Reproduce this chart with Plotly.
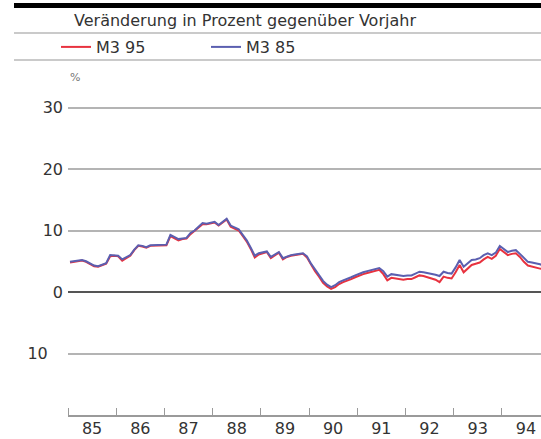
import plotly.graph_objects as go

# ---- data (monthly, Jan 1985 - Dec 1994), % change vs previous year ----
years = [1985, 1986, 1987, 1988, 1989, 1990, 1991, 1992, 1993, 1994]
year_labels = ["85", "86", "87", "88", "89", "90", "91", "92", "93", "94"]

m3_85 = [
    4.9, 5.0, 5.1, 5.2, 5.0, 4.6, 4.3, 4.2, 4.4, 4.7, 6.0, 6.0,
    5.9, 5.3, 5.6, 6.0, 6.9, 7.6, 7.5, 7.3, 7.6, 7.6, 7.7, 7.6,
    7.7, 9.3, 8.9, 8.6, 8.7, 8.8, 9.6, 10.0, 10.6, 11.2, 11.1, 11.3,
    11.4, 10.9, 11.4, 11.9, 10.8, 10.5, 10.2, 9.3, 8.4, 7.2, 5.9, 6.3,
    6.5, 6.6, 5.7, 6.1, 6.5, 5.5, 5.8, 6.0, 6.1, 6.2, 6.3, 5.8,
    4.6, 3.7, 2.8, 1.8, 1.2, 0.8, 1.1, 1.6, 1.9, 2.1, 2.4, 2.7,
    3.0, 3.2, 3.4, 3.6, 3.8, 3.9, 3.4, 2.5, 2.9, 2.8, 2.8, 2.6,
    2.7, 2.7, 3.0, 3.3, 3.2, 3.1, 2.9, 2.8, 2.6, 3.3, 3.1, 3.0,
    4.0, 5.2, 4.1, 4.6, 5.2, 5.3, 5.5, 6.0, 6.3, 6.0, 6.4, 7.5,
    7.0, 6.5, 6.7, 6.8, 6.2, 5.5, 4.9, 4.8, 4.7, 4.5, 4.3, 4.2,
]

m3_95 = [
    4.8, 4.9, 5.0, 5.1, 4.9, 4.5, 4.2, 4.1, 4.3, 4.6, 5.8, 5.9,
    5.8, 5.1, 5.5, 5.9, 6.8, 7.5, 7.4, 7.2, 7.5, 7.5, 7.6, 7.5,
    7.6, 9.1, 8.7, 8.4, 8.6, 8.7, 9.4, 9.9, 10.5, 11.0, 11.0, 11.2,
    11.3, 10.8, 11.3, 11.8, 10.6, 10.3, 10.0, 9.1, 8.2, 7.0, 5.6, 6.1,
    6.3, 6.5, 5.5, 6.0, 6.4, 5.3, 5.7, 5.9, 6.0, 6.1, 6.2, 5.6,
    4.4, 3.4, 2.5, 1.5, 0.9, 0.5, 0.8, 1.3, 1.6, 1.8, 2.1, 2.4,
    2.7, 2.9, 3.1, 3.3, 3.5, 3.6, 2.9, 1.9, 2.3, 2.2, 2.2, 2.0,
    2.1, 2.1, 2.4, 2.7, 2.6, 2.4, 2.2, 2.0, 1.6, 2.5, 2.3, 2.2,
    3.2, 4.4, 3.2, 3.8, 4.4, 4.6, 4.8, 5.3, 5.7, 5.4, 5.9, 7.0,
    6.5, 6.0, 6.2, 6.3, 5.7, 4.9, 4.3, 4.1, 4.0, 3.8, 3.7, 3.6,
]

y_ticks = [-10, 0, 10, 20, 30]
y_tick_labels = ["10\u00a0\u00a0\u00a0", "0", "10", "20", "30"]

x_vals = [years[0] + i / 12 + 1 / 24 for i in range(len(m3_85))]
x_label_pos = [y + 0.5 for y in years]

# ---- geometry helpers (pixel -> paper) ----
W, H = 541, 439
L, R, T, B = 68, 0, 92, 24
PW, PH = W - L - R, H - T - B


def px(x):
    return (x - L) / PW


def py(y):
    return (H - B - y) / PH


FONT = "DejaVu Sans"
TXT = "#333333"

fig = go.Figure()
fig.add_trace(go.Scatter(x=x_vals, y=m3_95, mode="lines", name="M3 95",
                         line=dict(color="#e8323f", width=2)))
fig.add_trace(go.Scatter(x=x_vals, y=m3_85, mode="lines", name="M3 85",
                         line=dict(color="#5b5fb0", width=2)))

fig.update_layout(
    width=W, height=H,
    margin=dict(l=L, r=R, t=T, b=B, autoexpand=False),
    paper_bgcolor="white", plot_bgcolor="white",
    font=dict(family=FONT, size=16, color=TXT),
    showlegend=True,
    legend=dict(orientation="h", x=px(56), y=py(47), xanchor="left", yanchor="middle",
                entrywidth=105, entrywidthmode="pixels",
                font=dict(family=FONT, size=16, color=TXT),
                bgcolor="rgba(0,0,0,0)", itemclick=False),
    xaxis=dict(
        range=[years[0], years[0] + PW / 48.2],
        tickmode="array", tickvals=x_label_pos, ticktext=year_labels,
        ticks="", showgrid=False, zeroline=False,
        showline=True, linecolor="#9a9a9a", linewidth=1.5,
        ticklabelstandoff=-2,
        tickfont=dict(family=FONT, size=16, color=TXT),
        minor=dict(tickmode="linear", tick0=years[0], dtick=1,
                   ticks="inside", ticklen=7, tickwidth=1, tickcolor="#9a9a9a",
                   showgrid=False),
        automargin=False, fixedrange=True,
    ),
    yaxis=dict(
        range=[-20, -20 + PH / 6.15],
        tickmode="array", tickvals=y_ticks, ticktext=y_tick_labels,
        ticks="", showgrid=True, gridcolor="#b4b4b4", gridwidth=1.5,
        zeroline=True, zerolinecolor="#555555", zerolinewidth=2,
        showline=False, ticklabelstandoff=4,
        tickfont=dict(family=FONT, size=16, color=TXT),
        automargin=False, fixedrange=True,
    ),
    shapes=[
        dict(type="rect", xref="paper", yref="paper", x0=px(14), x1=px(W), y0=py(3), y1=py(8),
             fillcolor="black", line=dict(width=0), layer="above"),
        dict(type="line", xref="paper", yref="paper", x0=px(14), x1=px(W), y0=py(33), y1=py(33),
             line=dict(color="#b8b8b8", width=1.5)),
        dict(type="line", xref="paper", yref="paper", x0=px(14), x1=px(W), y0=py(60), y1=py(60),
             line=dict(color="#b8b8b8", width=1.5)),
    ],
    annotations=[
        dict(text="Veränderung in Prozent gegenüber Vorjahr", xref="paper", yref="paper",
             x=px(72), y=py(20), xanchor="left", yanchor="middle", showarrow=False,
             font=dict(family=FONT, size=16, color=TXT)),
        dict(text="%", xref="paper", yref="paper",
             x=px(68), y=py(78), xanchor="left", yanchor="middle", showarrow=False,
             font=dict(family=FONT, size=11, color="#777777")),
    ],
)

fig.write_html("out.html", config={"displayModeBar": False},
               post_script="document.body.style.margin='0';document.body.style.padding='0';")
